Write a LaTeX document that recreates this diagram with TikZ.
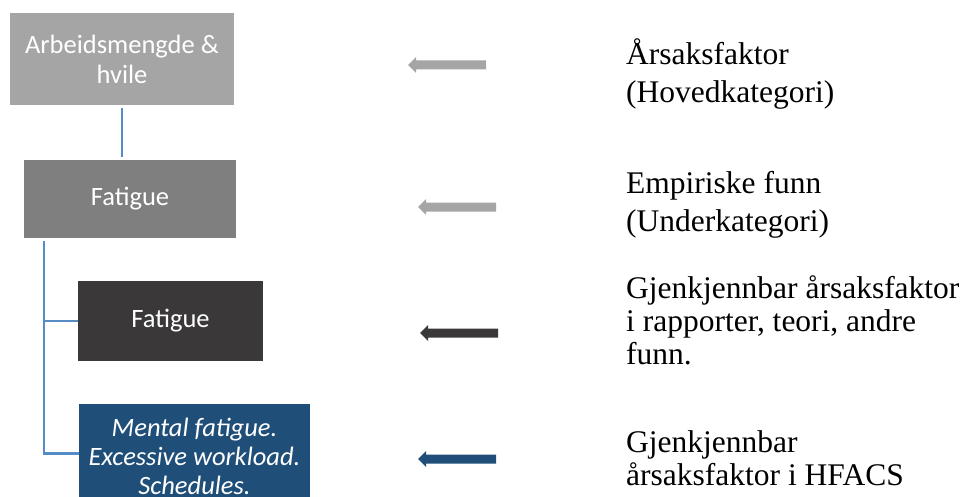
\documentclass[tikz,border=0pt]{standalone}
\usepackage{fontspec}
\setmainfont{Liberation Serif}
\newfontfamily\boxfont{Carlito}
\definecolor{greyA}{HTML}{A5A5A5}
\definecolor{greyB}{HTML}{7F7F7F}
\definecolor{greyC}{HTML}{3A3838}
\definecolor{navy}{HTML}{1F4E79}
\definecolor{linkblue}{RGB}{84,140,198}
\tikzset{
  cat/.style={rectangle, inner sep=2pt, text=white, align=center,
    font=\boxfont\fontsize{26.5}{30}\selectfont},
  link/.style={draw=linkblue, line width=2.2pt, shorten <=3pt},
  % anchored on the baseline of the last line
  legend/.style={anchor=base west, inner sep=0pt, align=left},
  pics/leftarrow/.style={code={
    \fill[#1] (0,0) -- (8,-8) -- (8,-4.5) -- (78,-4.5) -- (78,4.5) -- (8,4.5) -- (8,8) -- cycle;
  }}
}
\begin{document}
\begin{tikzpicture}[x=1pt, y=-1pt]
  \useasboundingbox (0,0) rectangle (968,497);

  % category boxes
  \node[cat, fill=greyA, minimum width=224pt, minimum height=92pt] (hoved) at (122,59)
    {Arbeidsmengde \&\\hvile};
  \node[cat, fill=greyB, minimum width=212pt, minimum height=78pt] (under) at (130,199)
    {Fatigue};
  \node[cat, fill=greyC, minimum width=185pt, minimum height=80pt] (teori) at (170.5,321)
    {Fatigue};
  \node[cat, fill=navy, minimum width=231pt, minimum height=105pt,
        font=\boxfont\itshape\fontsize{26.5}{29}\selectfont] (hfacs) at (194.5,456.5)
    {Mental fatigue.\\Excessive workload.\\Schedules.};

  % tree connectors
  \draw[link, shorten >=3pt] (hoved.south) -- (hoved.south |- under.north);
  \coordinate (trunk) at ([xshift=20pt]under.south west);
  \draw[link] (trunk) |- (teori.west);
  \draw[link] (trunk) |- ([yshift=3pt]hfacs.west);

  % legend arrows
  \pic at (408,65) {leftarrow=greyA};
  \pic at (418,207) {leftarrow=greyA};
  \pic at (420,333) {leftarrow=greyC};
  \pic at (418,459) {leftarrow=navy};

  % legend texts
  \begin{scope}[font=\fontsize{31.5}{38}\selectfont]
    \node[legend] (l1) at (626,103) {Årsaksfaktor\\(Hovedkategori)};
    \node[legend] (l2) at (626,231) {Empiriske funn\\(Underkategori)};
  \end{scope}
  \begin{scope}[font=\fontsize{31.5}{33}\selectfont]
    \node[legend] (l3) at (626,364) {Gjenkjennbar årsaksfaktor\\i rapporter, teori, andre\\funn.};
    \node[legend] (l4) at (626,485) {Gjenkjennbar\\årsaksfaktor i HFACS};
  \end{scope}
\end{tikzpicture}
\end{document}
